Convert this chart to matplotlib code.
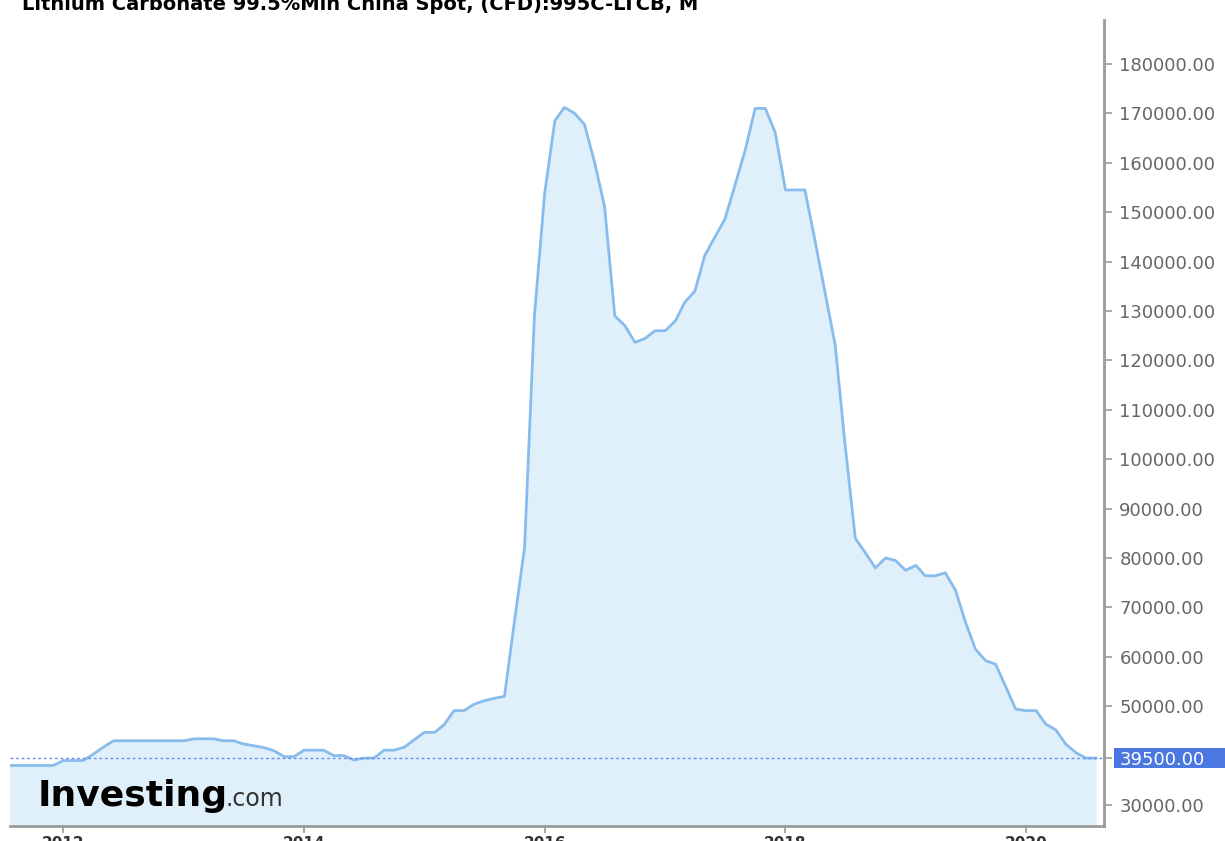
import matplotlib
matplotlib.use("Agg")
import matplotlib.pyplot as plt
import matplotlib.patches as mpatches
import matplotlib.transforms as mtransforms
import pandas as pd

title = "Lithium Carbonate 99.5%Min China Spot, (CFD):995C-LTCB, M"
start_month = "2011-07"

# monthly close, Jul 2011 .. Aug 2020
prices = [
    38000, 38000, 38000, 38000, 38000, 38000,
    39000, 39000, 39000, 40300, 41700, 43000,
    43000, 43000, 43000, 43000, 43000, 43000,
    43000, 43400, 43400, 43400, 43000, 43000,
    42350, 42000, 41600, 41000, 39800, 39800,
    41100, 41100, 41100, 40000, 40000, 39100,
    39500, 39500, 41100, 41100, 41700, 43200,
    44700, 44700, 46200, 49100, 49100, 50400,
    51100, 51600, 52000, 67000, 82150, 129000,
    153800, 168500, 171200, 170000, 167750, 160000,
    151100, 129000, 127000, 123650, 124450, 126000,
    126000, 128000, 131750, 134000, 141200, 145000,
    148550, 155500, 162600, 171000, 171000, 166100,
    154500, 154500, 154500, 144150, 133800, 123100,
    103000, 84000, 81000, 78000, 80000, 79500,
    77500, 78500, 76400, 76400, 77000, 73500,
    67100, 61500, 59200, 58500, 53900, 49400,
    49100, 49100, 46400, 45200, 42300, 40600,
    39500, 39500,
]
last_price = 39500
ytick_values = [30000, 39500] + list(range(50000, 180001, 10000))
xtick_years = [2012, 2014, 2016, 2018, 2020]

dates = pd.date_range(start_month, periods=len(prices), freq="MS")
y_floor = 25750

W, H = 1225, 841
fig = plt.figure(figsize=(W / 100, H / 100), dpi=100)
ax = fig.add_axes([10 / W, 15 / H, 1094 / W, 806 / H])

ax.fill_between(dates, prices, y_floor, color="#e0f0fa", lw=0)
ax.plot(dates, prices, color="#88bcec", lw=2)
ax.axhline(last_price, color="#6d8cf0", lw=1, ls=(0, (2, 2)))

ax.set_ylim(y_floor, 188900)
ax.set_xlim(pd.Timestamp("2011-07-23"), pd.Timestamp("2020-08-25"))

for s in ["left", "top"]:
    ax.spines[s].set_visible(False)
for s in ["right", "bottom"]:
    ax.spines[s].set_color("#9a9a9a")
    ax.spines[s].set_linewidth(2)

ax.yaxis.tick_right()
ax.set_yticks(ytick_values)
ax.set_yticklabels([f"{v:.2f}" for v in ytick_values], family="DejaVu Sans")
ax.tick_params(axis="y", direction="out", length=6, width=1.2, color="#9a9a9a",
               labelcolor="#666666", labelsize=13, pad=5)

ax.set_xticks([pd.Timestamp(f"{y}-01-01") for y in xtick_years])
ax.set_xticklabels([str(y) for y in xtick_years], fontweight="bold", family="DejaVu Sans")
ax.tick_params(axis="x", direction="out", length=5, width=1.2, color="#9a9a9a",
               labelcolor="#333333", labelsize=11, pad=2)

# highlighted last price label
for lbl, v in zip(ax.get_yticklabels(), ytick_values):
    if v == last_price:
        lbl.set_color("white")
trans = mtransforms.blended_transform_factory(fig.transFigure, ax.transData)
ax.add_patch(mpatches.Rectangle((1114 / W, last_price - 2000), 1 - 1114 / W, 4000,
                                transform=trans, facecolor="#4a78e0", edgecolor="none",
                                clip_on=False, zorder=1))

fig.text(22 / W, 1 - 10 / H, title, fontsize=14, fontweight="bold",
         family="DejaVu Sans", va="baseline", ha="left", color="black")

# watermark
fig.text(38 / W, 1 - 806 / H, "Investing", fontsize=26, fontweight="bold",
         family="DejaVu Sans", va="baseline", ha="left", color="black")
fig.text(226 / W, 1 - 806 / H, ".com", fontsize=17,
         family="DejaVu Sans", va="baseline", ha="left", color="#333333")

fig.savefig("out.png", dpi=100)
